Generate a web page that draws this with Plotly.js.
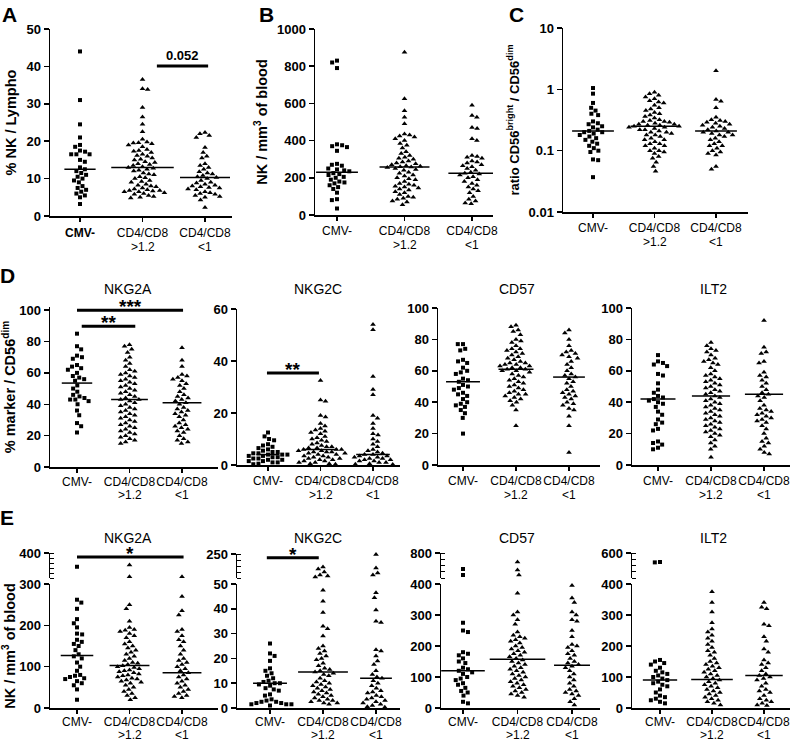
<!DOCTYPE html>
<html><head><meta charset="utf-8">
<script src="https://cdn.plot.ly/plotly-3.0.1.min.js"></script>
<style>body{margin:0;background:#fff}#chart{width:795px;height:741px}</style>
</head><body><div id="chart"></div>
<script>
// ---------- categories / tick labels ----------
const groups = ['CMV-', 'CD4/CD8 >1.2', 'CD4/CD8 <1'];
const tickLine1 = ['CMV-', 'CD4/CD8', 'CD4/CD8'];
const tickLine1A = ['<b>CMV-</b>', 'CD4/CD8', 'CD4/CD8'];
const tickLine2 = ['', '&gt;1.2', '&lt;1'];

// ---------- Panel A: % NK / Lympho ----------
const A_cmv = [44, 31, 24.5, 21, 19, 18.5, 17.5, 17.2, 16.5, 16.5, 16.5, 15, 14.5, 13, 12.5, 12, 11.5, 11, 10.5, 10, 9.5, 9, 8, 7.5, 7, 6.5, 6, 5.5, 5, 3.2];
const A_hi = [36.5, 34, 33.8, 29, 26.5, 24.5, 22.5, 20.5, 19.8, 19.6, 19.5, 19.3, 19, 18.5, 17.8, 17.5, 17.3, 17, 16.5, 16.2, 16, 15.5, 15.2, 15, 14.5, 14.3, 14, 13.8, 13.5, 13.2, 13, 12.8, 12.5, 12.2, 12, 11.5, 11.2, 11, 10.5, 10.2, 10, 9.5, 9.2, 9, 8.5, 8.2, 8, 7.8, 7.5, 7.2, 7, 6.8, 6.8, 6.7, 6.5, 6.5, 6.2, 6, 5.8, 5.5, 5.2, 5, 4.8];
const A_lo = [22.3, 22, 21.5, 21, 18.3, 17, 16, 15.5, 14, 13.5, 13, 12.5, 11.8, 11.5, 11.2, 10.8, 10.5, 10.3, 10, 9.5, 9, 8.8, 8.5, 8.2, 8, 7.8, 7.6, 7.5, 7.2, 7, 6.5, 6.2, 6, 5.8, 5.5, 5.2, 5, 4.3, 2.3];
const A_med = [12.5, 13, 10.3];

// ---------- Panel B: NK / mm3 ----------
const B_cmv = [830, 820, 790, 380, 375, 370, 365, 345, 275, 270, 265, 250, 245, 240, 235, 225, 220, 215, 205, 200, 190, 180, 175, 170, 160, 150, 140, 120, 85, 80, 35];
const B_hi = [875, 625, 560, 525, 490, 435, 430, 425, 420, 410, 400, 385, 375, 360, 340, 330, 320, 310, 305, 300, 290, 285, 280, 275, 270, 265, 262, 260, 258, 255, 250, 245, 240, 230, 225, 215, 210, 200, 195, 190, 180, 170, 165, 160, 155, 150, 145, 140, 135, 125, 120, 110, 100, 95, 90, 85, 75, 70, 55];
const B_lo = [590, 535, 525, 470, 465, 410, 400, 320, 315, 310, 305, 290, 285, 280, 270, 265, 260, 250, 240, 230, 225, 220, 215, 205, 200, 190, 180, 170, 160, 150, 140, 130, 120, 100, 85, 75, 65, 60];
const B_med = [230, 258, 225];

// ---------- Panel C: ratio CD56bright / CD56dim ----------
const C_cmv = [1.05, 0.85, 0.6, 0.5, 0.45, 0.4, 0.38, 0.3, 0.28, 0.27, 0.25, 0.24, 0.22, 0.21, 0.2, 0.2, 0.19, 0.18, 0.17, 0.16, 0.15, 0.14, 0.13, 0.12, 0.11, 0.1, 0.095, 0.072, 0.07, 0.037];
const C_hi = [0.9, 0.85, 0.8, 0.75, 0.7, 0.65, 0.62, 0.6, 0.55, 0.5, 0.48, 0.45, 0.42, 0.4, 0.38, 0.36, 0.34, 0.32, 0.31, 0.3, 0.3, 0.29, 0.28, 0.27, 0.27, 0.26, 0.26, 0.25, 0.25, 0.24, 0.24, 0.23, 0.22, 0.22, 0.21, 0.2, 0.2, 0.19, 0.18, 0.18, 0.17, 0.16, 0.15, 0.15, 0.14, 0.13, 0.13, 0.12, 0.12, 0.11, 0.1, 0.1, 0.095, 0.09, 0.08, 0.075, 0.065, 0.055, 0.046];
const C_lo = [2.0, 0.68, 0.64, 0.5, 0.35, 0.32, 0.31, 0.3, 0.29, 0.28, 0.27, 0.26, 0.25, 0.24, 0.23, 0.22, 0.21, 0.2, 0.2, 0.19, 0.18, 0.18, 0.17, 0.16, 0.15, 0.14, 0.13, 0.12, 0.12, 0.11, 0.1, 0.095, 0.09, 0.085, 0.055, 0.05];
const C_med = [0.21, 0.25, 0.21];

// ---------- Panel D: % marker / CD56dim ----------
const D_NKG2A_cmv = [85, 77, 75, 71, 70, 69, 65, 64, 63, 62, 60, 58, 57, 56, 55, 52, 50, 48, 46, 45, 44, 43, 43, 42, 40, 36, 33, 28, 26, 22];
const D_NKG2A_hi = [78, 77, 75, 73, 70, 68, 66, 64, 62, 61, 60, 59, 58, 57, 56, 55, 54, 53, 52, 51, 50, 49, 48, 47, 46, 45, 44, 43, 43, 42, 41, 40, 39, 38, 37, 36, 35, 34, 33, 32, 31, 30, 29, 28, 27, 26, 25, 24, 23, 22, 21, 20, 19, 18, 17, 16, 15];
const D_NKG2A_lo = [76, 68, 64, 59, 58, 57, 56, 55, 53, 52, 50, 48, 46, 45, 44, 43, 42, 41, 40, 38, 37, 36, 35, 34, 33, 32, 30, 28, 27, 26, 25, 24, 23, 22, 20, 18, 17, 16, 15];
const D_NKG2A_med = [53.5, 43, 41];

const D_NKG2C_cmv = [12.5, 11, 10, 9.5, 8, 7.5, 7, 6.5, 6, 5.5, 5, 5, 4.5, 4.5, 4, 4, 4, 3.5, 3.5, 3, 3, 2.5, 2.5, 2, 2, 1.5, 1.5, 1, 1, 0.5, 0.3];
const D_NKG2C_hi = [32.5, 25, 24.5, 19, 18.5, 16, 15, 14, 13.5, 13, 12.5, 12, 11, 10.5, 10, 9.5, 9, 8.5, 8, 7.5, 7, 7, 6.5, 6.5, 6, 6, 6, 5.5, 5.5, 5, 5, 5, 4.5, 4.5, 4, 4, 3.5, 3.5, 3, 3, 2.5, 2.5, 2, 2, 1.5, 1.5, 1, 1, 0.5, 0.5, 0.3];
const D_NKG2C_lo = [54, 52, 34, 29, 27, 19, 18, 16, 14, 12, 11.5, 10, 9, 8, 7, 6, 5.5, 5, 4.5, 4, 4, 3.5, 3.5, 3, 3, 2.5, 2.5, 2, 2, 1.5, 1.5, 1, 1, 0.5, 0.3, 0.2];
const D_NKG2C_med = [4, 6, 4];

const D_CD57_cmv = [77, 77, 74, 73, 67, 66, 65, 62, 60, 59, 58, 55, 54, 53, 51, 50, 49, 48, 46, 45, 44, 42, 40, 39, 38, 37, 35, 33, 30, 20];
const D_CD57_hi = [89, 88, 86, 85, 83, 80, 79, 78, 76, 74, 74, 73, 72, 71, 70, 69, 68, 67, 66, 65, 65, 64, 64, 63, 63, 62, 62, 61, 61, 60, 60, 59, 58, 57, 56, 55, 54, 53, 52, 51, 50, 49, 48, 47, 46, 45, 45, 44, 43, 42, 41, 40, 38, 35, 25];
const D_CD57_lo = [86, 84, 80, 76, 73, 72, 71, 70, 69, 68, 66, 64, 62, 60, 58, 57, 56, 55, 53, 52, 50, 48, 47, 46, 45, 44, 43, 42, 40, 39, 38, 36, 35, 31, 25, 8];
const D_CD57_med = [53, 61, 56];

const D_ILT2_cmv = [70, 66, 65, 64, 63, 58, 57, 52, 48, 46, 44, 43, 42, 41, 40, 39, 37, 34, 32, 29, 27, 26, 23, 22, 15, 14, 13, 11, 10];
const D_ILT2_hi = [78, 76, 74, 73, 72, 70, 68, 67, 66, 65, 64, 62, 60, 58, 57, 56, 55, 54, 53, 52, 51, 50, 49, 48, 47, 46, 45, 44, 43, 42, 41, 40, 39, 38, 37, 36, 35, 34, 33, 32, 31, 30, 29, 28, 27, 26, 25, 24, 23, 22, 21, 20, 19, 18, 16, 14, 12, 10, 5];
const D_ILT2_lo = [92, 75, 72, 71, 66, 65, 59, 57, 56, 54, 52, 50, 48, 46, 45, 44, 43, 41, 38, 36, 35, 34, 33, 32, 31, 30, 29, 28, 27, 25, 23, 20, 17, 15, 14, 12, 10, 8, 7];
const D_ILT2_med = [42, 44, 45];

// ---------- Panel E: NK / mm3 per marker ----------
const E_NKG2A_cmv = [345, 262, 255, 240, 215, 205, 195, 180, 178, 165, 160, 155, 150, 140, 130, 125, 120, 110, 100, 90, 80, 78, 75, 72, 70, 65, 60, 55, 45, 20];
const E_NKG2A_hi = [352, 305, 250, 240, 210, 195, 190, 188, 185, 180, 175, 170, 160, 155, 150, 145, 140, 135, 130, 125, 120, 115, 110, 108, 105, 102, 100, 98, 95, 92, 90, 88, 85, 82, 80, 78, 75, 72, 70, 68, 65, 62, 60, 55, 50, 45, 40, 35, 30, 25, 20];
const E_NKG2A_lo = [305, 270, 235, 225, 190, 185, 175, 165, 160, 150, 140, 130, 120, 115, 110, 105, 100, 95, 90, 85, 80, 75, 70, 65, 60, 55, 50, 45, 40, 35, 30, 28, 25];
const E_NKG2A_med = [127, 103, 85];

const E_NKG2C_cmv = [26, 22, 21, 19, 16, 15, 14, 13, 12, 11, 10.5, 10, 10, 9.5, 9, 8, 7.5, 7, 5.5, 5, 3.5, 3, 2.5, 2.5, 2, 2, 1.5, 1.5, 1.5, 1];
const E_NKG2C_hi = [142, 125, 100, 75, 67, 58, 47.5, 43, 38.5, 33, 32, 29, 25, 24, 23, 22, 21, 20, 19.5, 18, 17, 16, 15.5, 15, 14.5, 14, 13.5, 13, 12, 11, 10.5, 10, 9.5, 9, 8.5, 8, 7.5, 7, 6.5, 6, 5.5, 5, 4.5, 4, 3.5, 3, 3, 2.5, 2, 2, 1.5];
const E_NKG2C_lo = [245, 133, 92, 75, 46.5, 44.5, 39.5, 35, 34.5, 23.5, 23, 21, 19, 17.5, 15, 13.5, 12.5, 12, 11, 10, 9, 8, 7, 6.5, 6, 5, 4.5, 4, 3.5, 3, 2.5, 2, 1.5, 1, 0.5, 0.3];
const E_NKG2C_med = [10, 14.5, 12];

const E_CD57_cmv = [544, 448, 275, 250, 245, 180, 175, 170, 160, 150, 145, 130, 125, 120, 115, 110, 100, 95, 90, 80, 75, 65, 55, 50, 40, 20, 15];
const E_CD57_hi = [656, 528, 448, 370, 310, 300, 285, 270, 245, 235, 230, 225, 220, 215, 210, 200, 195, 190, 185, 180, 175, 170, 165, 160, 155, 150, 145, 140, 135, 130, 125, 120, 115, 110, 105, 100, 95, 90, 85, 80, 75, 70, 65, 60, 55, 50, 45, 40, 35];
const E_CD57_lo = [395, 355, 340, 310, 300, 285, 280, 250, 230, 205, 200, 195, 185, 175, 170, 160, 150, 145, 140, 135, 130, 120, 110, 100, 90, 80, 70, 60, 55, 50, 45, 40, 30, 20, 10];
const E_CD57_med = [120, 157, 138];

const E_ILT2_cmv = [528, 525, 155, 150, 145, 140, 130, 120, 115, 110, 105, 100, 95, 90, 85, 80, 75, 70, 60, 50, 40, 35, 30, 25, 20, 15];
const E_ILT2_hi = [375, 340, 310, 275, 255, 245, 235, 225, 215, 205, 195, 185, 180, 170, 160, 150, 145, 140, 135, 130, 125, 120, 115, 110, 105, 100, 95, 90, 85, 80, 75, 70, 65, 60, 55, 50, 45, 40, 35, 30, 25, 20, 15, 10];
const E_ILT2_lo = [340, 325, 320, 270, 265, 230, 215, 190, 180, 155, 145, 140, 130, 120, 110, 105, 100, 95, 90, 80, 70, 60, 55, 50, 40, 30, 25, 20, 15, 10, 8];
const E_ILT2_med = [90, 92, 105];

// ---------- significance bars ----------
const sigPanels = ['A', 'D1', 'D1', 'D2', 'E1', 'E2'];
const sigFrom   = [1.23, 0, 0.09, -0.02, 0.0, -0.06];
const sigTo     = [2.05, 2.02, 1.11, 0.97, 2.03, 0.92];
const sigY      = [40.1, 100, 89.8, 35.4, 384, 218];
const sigLabels = ['0.052', '***', '**', '**', '*', '*'];

// ---------- geometry / style (pixels in the 795x741 figure) ----------
const W = 795, H = 741;
const FONT = 'Liberation Sans, Arial, sans-serif';
const panels = [
  {id:'A', data:[A_cmv,A_hi,A_lo], med:A_med, L:50,R:232,c0:80,c2:205, top:29,bot:216, yr:[0,50], yt:[0,10,20,30,40,50], ytitle:'<b>% NK / Lympho</b>', tsz:14.5, hw:[0.25,0.5,0.4], ticks:tickLine1A, so:1, l2:247, letter:'A', lx:9, ly:15},
  {id:'B', data:[B_cmv,B_hi,B_lo], med:B_med, L:315,R:493,c0:337,c2:472, top:29,bot:215, yr:[0,1000], yt:[0,200,400,600,800,1000], ytitle:'<b>NK / mm<sup>3</sup> of blood</b>', tsz:14.5, hw:[0.31,0.37,0.35], so:0, l2:245, letter:'B', lx:266, ly:15},
  {id:'C', data:[C_cmv,C_hi,C_lo], med:C_med, L:563,R:748,c0:593,c2:716, top:28,bot:212, yr:[-2,1], log:true, yt:[0.01,0.1,1,10], ytt:['0.01','0.1','1','10'], ytitle:'<b>ratio CD56<sup>bright</sup> / CD56<sup>dim</sup></b>', tsz:13, hw:[0.34,0.39,0.34], so:0, l2:242, letter:'C', lx:516, ly:15},
  {id:'D1', data:[D_NKG2A_cmv,D_NKG2A_hi,D_NKG2A_lo], med:D_NKG2A_med, L:50,R:218,c0:77,c2:182, top:307,bot:467, yr:[0,102], yt:[0,20,40,60,80,100], ytitle:'<b>% marker / CD56<sup>dim</sup></b>', tsz:14.5, hw:[0.29,0.35,0.37], so:-1, l2:495, title:'NKG2A', tx:128, ty:289, letter:'D', lx:7, ly:275},
  {id:'D2', data:[D_NKG2C_cmv,D_NKG2C_hi,D_NKG2C_lo], med:D_NKG2C_med, L:237,R:400,c0:268,c2:373, top:309,bot:465, yr:[0,60], yt:[0,20,40,60], hw:[0.22,0.33,0.32], so:0, l2:495, title:'NKG2C', tx:318, ty:289},
  {id:'D3', data:[D_CD57_cmv,D_CD57_hi,D_CD57_lo], med:D_CD57_med, L:438,R:600,c0:463,c2:569, top:308,bot:465, yr:[0,100], yt:[0,20,40,60,80,100], hw:[0.32,0.33,0.3], so:0, l2:495, title:'CD57', tx:517, ty:289},
  {id:'D4', data:[D_ILT2_cmv,D_ILT2_hi,D_ILT2_lo], med:D_ILT2_med, L:632,R:790,c0:658,c2:764, top:308,bot:465, yr:[0,100], yt:[0,20,40,60,80,100], hw:[0.33,0.36,0.36], so:0, l2:495, title:'ILT2', tx:713, ty:289},
  {id:'E1', data:[E_NKG2A_cmv,E_NKG2A_hi,E_NKG2A_lo], med:E_NKG2A_med, L:50,R:218,c0:77,c2:182, top:584,bot:708, yr:[0,300], yt:[0,100,200,300], brk:{top:553,bot:578,yr:[300,400],minor:20}, ytitle:'<b>NK / mm<sup>3</sup> of blood</b>', tsz:14.5, hw:[0.31,0.38,0.37], so:-2, l2:735, title:'NKG2A', tx:128, ty:538, letter:'E', lx:7, ly:517},
  {id:'E2', data:[E_NKG2C_cmv,E_NKG2C_hi,E_NKG2C_lo], med:E_NKG2C_med, L:237,R:400,c0:270,c2:376, top:584,bot:708, yr:[0,50], yt:[0,10,20,30,40,50], brk:{top:554,bot:578,yr:[50,250],minor:50}, hw:[0.32,0.47,0.3], so:-2, l2:735, title:'NKG2C', tx:318, ty:538},
  {id:'E3', data:[E_CD57_cmv,E_CD57_hi,E_CD57_lo], med:E_CD57_med, L:441,R:600,c0:463,c2:572, top:584,bot:708, yr:[0,400], yt:[0,100,200,300,400], brk:{top:553,bot:578,yr:[400,800],minor:100}, hw:[0.4,0.51,0.33], so:-2, l2:735, title:'CD57', tx:517, ty:538},
  {id:'E4', data:[E_ILT2_cmv,E_ILT2_hi,E_ILT2_lo], med:E_ILT2_med, L:632,R:790,c0:660,c2:764, top:584,bot:708, yr:[0,400], yt:[0,100,200,300,400], brk:{top:553,bot:578,yr:[400,600],minor:50}, hw:[0.33,0.4,0.36], so:-2, l2:735, title:'ILT2', tx:713, ty:538}
];

const symbols = ['square', 'triangle-up', 'triangle-up'];
const msize = [4, 5, 5];
const SWARM_D = 5.2; // px spacing between neighbouring symbols

// deterministic beeswarm: x offsets (px) so symbols do not overlap
function swarm(pys, d) {
  const idx = pys.map((v,i) => i).sort((a,b) => pys[a]-pys[b]);
  const xs = new Array(pys.length), placed = [];
  let flip = 1;
  idx.forEach(i => {
    const y = pys[i];
    const near = placed.filter(p => Math.abs(p.y-y) < d);
    const cands = [0];
    near.forEach(p => { const dx = Math.sqrt(d*d - (p.y-y)*(p.y-y)); cands.push(p.x+dx, p.x-dx); });
    cands.sort((a,b) => (Math.abs(a)-Math.abs(b)) || (flip*(b-a)));
    let chosen = 0;
    for (const c of cands) {
      if (near.every(p => (p.x-c)*(p.x-c) + (p.y-y)*(p.y-y) >= d*d - 1e-6)) { chosen = c; break; }
    }
    flip = -flip;
    xs[i] = chosen; placed.push({x:chosen, y:y});
  });
  return xs;
}
function toPx(v, r, top, bot, log) {
  const t = log ? Math.log10(v) : v;
  return bot - (t - r[0]) / (r[1]-r[0]) * (bot-top);
}

const axisLine = {showline:true, linecolor:'#000', linewidth:1.5, showgrid:false, zeroline:false, ticks:'outside', tickcolor:'#000', tickwidth:1.5};
const traces = [], shapes = [], annotations = [];
const layout = {
  width:W, height:H, margin:{l:0,r:0,t:0,b:0}, paper_bgcolor:'#fff', plot_bgcolor:'rgba(0,0,0,0)',
  showlegend:false, hovermode:false, font:{family:FONT, color:'#000'}
};
const xd = (L,R) => [L/W, R/W];
const yd = (t,b) => [1-b/H, 1-t/H];
let extra = panels.length;
const segAxis = {};

panels.forEach((p,i) => {
  const n = i+1, xa = 'x'+n, ya = 'y'+n;
  const s = (p.c2-p.c0)/2;
  layout['xaxis'+n] = Object.assign({}, axisLine, {
    domain: xd(p.L,p.R), range:[(p.L-p.c0)/s, (p.R-p.c0)/s], anchor: ya,
    tickmode:'array', tickvals:[0,1,2], ticktext: p.ticks || tickLine1, ticklen:4, tickangle:0,
    ticklabelstandoff: p.so,
    tickfont:{family:FONT, size:12, color:'#000'}
  });
  const yax = Object.assign({}, axisLine, {
    domain: yd(p.top,p.bot), range:p.yr, anchor: xa, type: p.log ? 'log' : 'linear',
    tickmode:'array', tickvals:p.yt, ticktext: p.ytt || p.yt.map(String), ticklen:5,
    tickfont:{family:FONT, size:13, color:'#000', weight:'bold'}
  });
  if (p.ytitle) yax.title = {text:p.ytitle, font:{family:FONT, size:p.tsz, color:'#000'}, standoff:6};
  layout['yaxis'+n] = yax;
  let topAx = null;
  if (p.brk) {
    extra++;
    topAx = 'y'+extra;
    layout['yaxis'+extra] = Object.assign({}, axisLine, {
      domain: yd(p.brk.top,p.brk.bot), range:p.brk.yr, anchor: xa,
      tickmode:'array', tickvals:[p.brk.yr[1]], ticktext:[String(p.brk.yr[1])], ticklen:5,
      tickfont:{family:FONT, size:13, color:'#000', weight:'bold'},
      minor:{tickmode:'linear', tick0:p.brk.yr[0], dtick:p.brk.minor, ticks:'inside', ticklen:4, tickwidth:1, tickcolor:'#000'}
    });
  }
  segAxis[p.id] = {x:xa, y:ya, top:topAx};

  // second line of the category labels
  tickLine2.forEach((t,g) => {
    if (t) annotations.push({text:t, xref:xa, yref:'paper', x:g, y:1-p.l2/H, showarrow:false,
      xanchor:'center', yanchor:'middle', font:{family:FONT, size:12, color:'#000'}});
  });

  p.data.forEach((vals,g) => {
    const splitAt = p.brk ? p.yr[1] : Infinity;
    const pys = vals.map(v => v <= splitAt ? toPx(v, p.yr, p.top, p.bot, p.log)
                                           : toPx(v, p.brk.yr, p.brk.top, p.brk.bot, false));
    const offs = swarm(pys, SWARM_D);
    const xs = offs.map(o => g + o/s);
    const lowI = [], highI = [];
    vals.forEach((v,k) => (v <= splitAt ? lowI : highI).push(k));
    const mk = {symbol:symbols[g], size:msize[g], color:'#000', line:{width:0}};
    traces.push({type:'scatter', mode:'markers', x:lowI.map(k=>xs[k]), y:lowI.map(k=>vals[k]),
      marker:mk, xaxis:xa, yaxis:ya, name:groups[g], cliponaxis:false});
    if (highI.length) traces.push({type:'scatter', mode:'markers', x:highI.map(k=>xs[k]), y:highI.map(k=>vals[k]),
      marker:mk, xaxis:xa, yaxis:topAx, name:groups[g], cliponaxis:false});
    traces.push({type:'scatter', mode:'lines', x:[g-p.hw[g], g+p.hw[g]], y:[p.med[g], p.med[g]],
      line:{color:'#000', width:1.5}, xaxis:xa, yaxis:ya, name:groups[g]+' median'});
  });

  if (p.title) annotations.push({text:p.title, xref:'paper', yref:'paper', x:p.tx/W, y:1-p.ty/H,
    showarrow:false, font:{family:FONT, size:14, color:'#000'}, xanchor:'center', yanchor:'middle'});
  if (p.letter) annotations.push({text:'<b>'+p.letter+'</b>', xref:'paper', yref:'paper', x:p.lx/W, y:1-p.ly/H,
    showarrow:false, font:{family:FONT, size:21, color:'#000'}, xanchor:'center', yanchor:'middle'});
});

sigPanels.forEach((pid,k) => {
  const ax = segAxis[pid];
  const yax = (pid === 'E1' || pid === 'E2') ? ax.top : ax.y;
  shapes.push({type:'line', xref:ax.x, yref:yax, x0:sigFrom[k], x1:sigTo[k], y0:sigY[k], y1:sigY[k],
    line:{color:'#000', width:3}});
  const isStar = sigLabels[k].indexOf('*') >= 0;
  annotations.push({text:'<b>'+sigLabels[k]+'</b>', xref:ax.x, yref:yax, x:(sigFrom[k]+sigTo[k])/2, y:sigY[k],
    showarrow:false, xanchor:'center', yanchor:'bottom', yshift: isStar ? -9 : 1,
    font:{family:FONT, size: isStar ? 19 : 13, color:'#000'}});
});

layout.shapes = shapes;
layout.annotations = annotations;
Plotly.newPlot('chart', traces, layout, {staticPlot:true, displayModeBar:false});
</script></body></html>
